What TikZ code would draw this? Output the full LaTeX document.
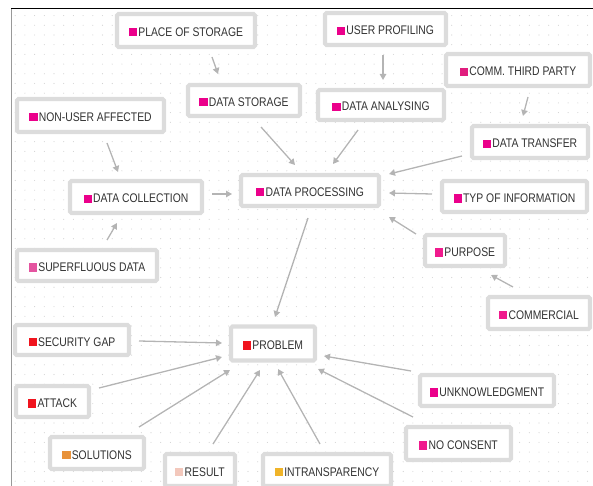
\documentclass[tikz,border=0pt]{standalone}
\usepackage{fontspec}
\setmainfont[FakeStretch=0.83]{Liberation Sans}
\usetikzlibrary{arrows.meta}
\definecolor{boxgray}{HTML}{DCDCDC}
\definecolor{arrgray}{HTML}{B4B4B4}
\definecolor{dotc}{HTML}{D2D2D2}
\definecolor{txt}{HTML}{333333}
\definecolor{mag}{HTML}{EB008B}
\definecolor{comm}{HTML}{E01D7E}
\definecolor{sup}{HTML}{E454A0}
\definecolor{nocon}{HTML}{F01A8D}
\definecolor{redsq}{HTML}{F0141E}
\definecolor{orsq}{HTML}{E8923A}
\definecolor{ressq}{HTML}{F3C8BC}
\definecolor{insq}{HTML}{F0B429}
\newcommand\mksq[1]{\textcolor{#1}{\rule{8.3pt}{8.3pt}}\hspace{1.2pt}}
\begin{document}
\begin{tikzpicture}[x=1pt,y=-1pt,
  box/.style={draw=boxgray, line width=4.2pt, fill=white, rounded corners=1.5pt,
    inner sep=0pt, text=txt, text height=12pt, text depth=0pt,
    font=\fontsize{12.5}{14}\selectfont},
  arr/.style={draw=arrgray, line width=1.3pt, -{Triangle[length=6pt,width=6.5pt]}}]
\useasboundingbox (0,0) rectangle (593,486);
% dot grid
\foreach \i in {-5,...,54}{
  \foreach \j in {-6,...,42}{
    \fill[dotc] (539-9.7*\i,423-9.7*\j) circle (0.55);
  }
}
% frame
\draw[black, line width=1pt] (11,9) -- (593,9);
\draw[gray!80, line width=1pt] (11,9) -- (11,486);
% nodes
\node[box, minimum width=138, minimum height=33] (ps) at (186,30.5) {\mksq{mag}PLACE OF STORAGE};
\node[box, minimum width=112, minimum height=31] (ds) at (244,100.5) {\mksq{mag}DATA STORAGE};
\node[box, minimum width=121, minimum height=32] (up) at (385.5,29) {\mksq{mag}USER PROFILING};
\node[box, minimum width=144, minimum height=32] (ct) at (518,70) {\mksq{comm}COMM. THIRD PARTY};
\node[box, minimum width=126, minimum height=30] (da) at (381,105) {\mksq{mag}DATA ANALYSING};
\node[box, minimum width=147, minimum height=33] (na) at (90.5,115.5) {\mksq{mag}NON-USER AFFECTED};
\node[box, minimum width=116, minimum height=32] (dt) at (530,142) {\mksq{mag}DATA TRANSFER};
\node[box, minimum width=132, minimum height=32] (dc) at (136,197) {\mksq{mag}DATA COLLECTION};
\node[box, minimum width=138, minimum height=31] (dp) at (310,190.5) {\mksq{mag}DATA PROCESSING};
\node[box, minimum width=145, minimum height=31] (ti) at (514.5,196.5) {\mksq{mag}TYP OF INFORMATION};
\node[box, minimum width=80, minimum height=31] (pu) at (465,250.5) {\mksq{nocon}PURPOSE};
\node[box, minimum width=140, minimum height=31] (sd) at (87,265.5) {\mksq{sup}SUPERFLUOUS DATA};
\node[box, minimum width=102, minimum height=32] (cm) at (539,313) {\mksq{nocon}COMMERCIAL};
\node[box, minimum width=114, minimum height=30] (sg) at (72,340) {\mksq{redsq}SECURITY GAP};
\node[box, minimum width=84, minimum height=34] (pr) at (273,343.5) {\mksq{redsq}PROBLEM};
\node[box, minimum width=73, minimum height=31] (at) at (52.5,401.5) {\mksq{redsq}ATTACK};
\node[box, minimum width=134, minimum height=31] (un) at (487,390.5) {\mksq{mag}UNKNOWLEDGMENT};
\node[box, minimum width=105, minimum height=33] (nc) at (458.5,443.5) {\mksq{nocon}NO CONSENT};
\node[box, minimum width=94, minimum height=32] (so) at (97,453) {\mksq{orsq}SOLUTIONS};
\node[box, minimum width=70, minimum height=32] (re) at (200,470) {\mksq{ressq}RESULT};
\node[box, minimum width=128, minimum height=32] (in) at (327,470) {\mksq{insq}INTRANSPARENCY};
% connectors
\draw[arr] ([shift={(26,26.5)}]ps.center) -- ([shift={(-26,-26.5)}]ds.center);
\draw[arr] ([shift={(-2.5,26)}]up.center) -- ([shift={(2,-25)}]da.center);
\draw[arr] ([shift={(10,27)}]ct.center) -- ([shift={(-7,-26)}]dt.center);
\draw[arr] ([shift={(16.5,27.5)}]na.center) -- ([shift={(-18,-25)}]dc.center);
\draw[arr] ([shift={(17,26.5)}]ds.center) -- ([shift={(-15,-25.5)}]dp.center);
\draw[arr] ([shift={(-23,25)}]da.center) -- ([shift={(23,-26.5)}]dp.center);
\draw[arr] ([shift={(-68,14)}]dt.center) -- ([shift={(79,-16.5)}]dp.center);
\draw[arr] ([shift={(-82.5,-2.5)}]ti.center) -- ([shift={(79,2.5)}]dp.center);
\draw[arr] ([shift={(-49,-16.5)}]pu.center) -- ([shift={(79,26.5)}]dp.center);
\draw[arr] ([shift={(-26,-26)}]cm.center) -- ([shift={(26,24.5)}]pu.center);
\draw[arr] ([shift={(76,-3)}]dc.center) -- ([shift={(-78,3.5)}]dp.center);
\draw[arr] ([shift={(20,-25.5)}]sd.center) -- ([shift={(-19,26)}]dc.center);
\draw[arr] ([shift={(-2,27.5)}]dp.center) -- ([shift={(2,-26.5)}]pr.center);
\draw[arr] ([shift={(67,1)}]sg.center) -- ([shift={(-51,-0.5)}]pr.center);
\draw[arr] ([shift={(46.5,-13.5)}]at.center) -- ([shift={(-51,13.5)}]pr.center);
\draw[arr] ([shift={(42,-26)}]so.center) -- ([shift={(-43,26.5)}]pr.center);
\draw[arr] ([shift={(13,-26)}]re.center) -- ([shift={(-13,26.5)}]pr.center);
\draw[arr] ([shift={(-7,-26)}]in.center) -- ([shift={(5,25.5)}]pr.center);
\draw[arr] ([shift={(-76,-19.5)}]un.center) -- ([shift={(51,12.5)}]pr.center);
\draw[arr] ([shift={(-45.5,-26.5)}]nc.center) -- ([shift={(45,25.5)}]pr.center);
\end{tikzpicture}
\end{document}
